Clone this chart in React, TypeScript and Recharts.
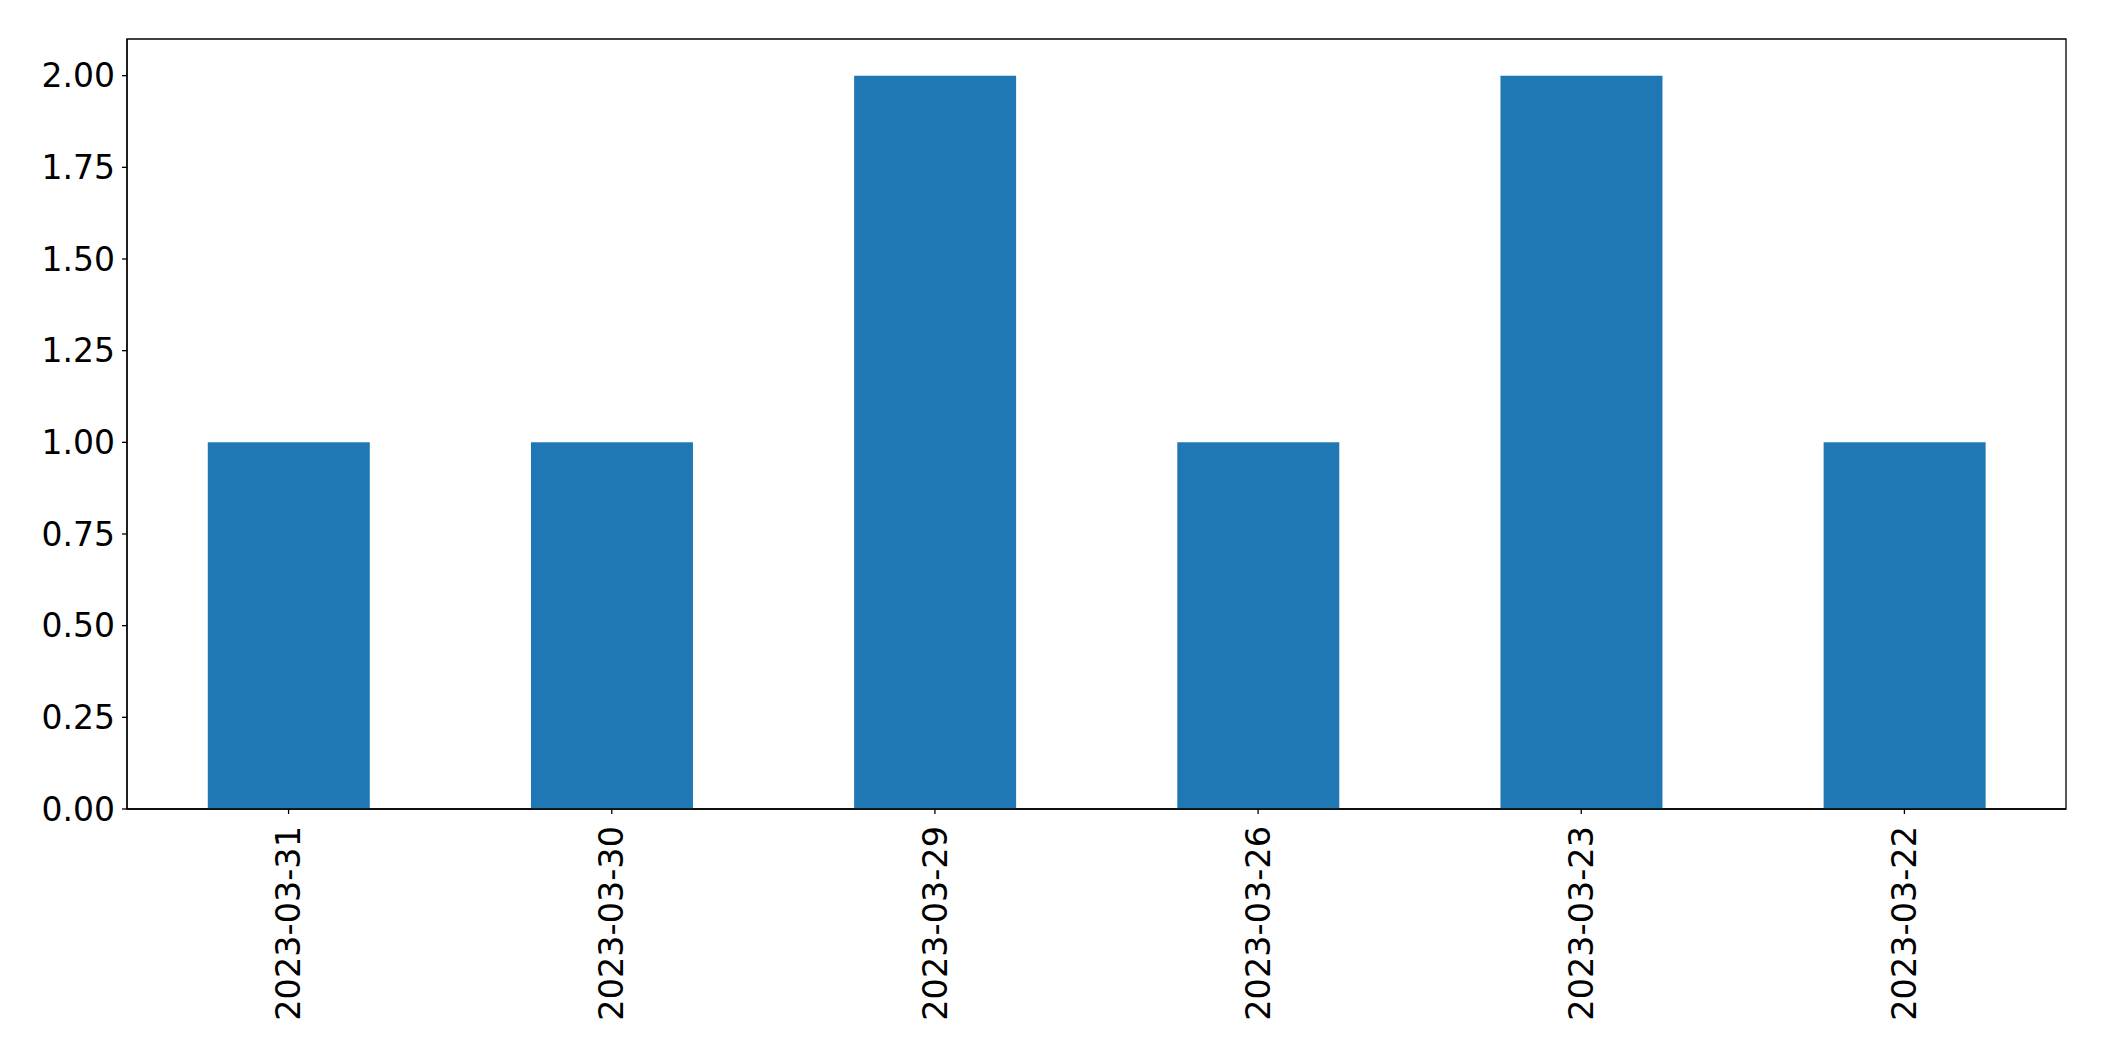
import { BarChart, Bar, XAxis, YAxis, ReferenceArea } from "recharts";

const dates = [
  "2023-03-31",
  "2023-03-30",
  "2023-03-29",
  "2023-03-26",
  "2023-03-23",
  "2023-03-22",
];
const counts = [1, 1, 2, 1, 2, 1];
const yTicks = [0, 0.25, 0.5, 0.75, 1, 1.25, 1.5, 1.75, 2];

const FONT = "'DejaVu Sans', sans-serif";

const data = dates.map((date, i) => ({ date, count: counts[i] }));

function DateTick(props: any) {
  const { x, y, payload } = props;
  const ty = y + 12;
  return (
    <text
      x={x}
      y={ty}
      dy="0.35em"
      transform={`rotate(-90, ${x}, ${ty})`}
      textAnchor="end"
      fill="#000"
      fontSize={33.5}
      fontFamily={FONT}
    >
      {payload.value}
    </text>
  );
}

export default function App() {
  return (
    <div style={{ position: "absolute", left: 0, top: 0, background: "#fff" }}>
      <BarChart
        width={2104}
        height={1061}
        data={data}
        margin={{ top: 39, right: 38, bottom: 0, left: 0 }}
        barCategoryGap="25%"
      >
        <XAxis
          dataKey="date"
          height={252}
          tickSize={5}
          tickMargin={0}
          interval={0}
          stroke="#000"
          axisLine={{ stroke: "#000", strokeWidth: 1.3 }}
          tickLine={{ stroke: "#000", strokeWidth: 1.3 }}
          tick={<DateTick />}
        />
        <YAxis
          width={127}
          domain={[0, 2.1]}
          ticks={yTicks}
          interval={0}
          tickSize={5}
          tickMargin={7}
          tickFormatter={(v: number) => v.toFixed(2)}
          axisLine={{ stroke: "#000", strokeWidth: 1.3 }}
          tickLine={{ stroke: "#000", strokeWidth: 1.3 }}
          tick={{ fill: "#000", fontSize: 33, fontFamily: FONT }}
        />
        {/* plot frame */}
        <ReferenceArea
          y1={0}
          y2={2.1}
          fill="none"
          stroke="#000"
          strokeWidth={1.3}
        />
        <Bar dataKey="count" fill="#1f77b4" isAnimationActive={false} />
      </BarChart>
    </div>
  );
}
